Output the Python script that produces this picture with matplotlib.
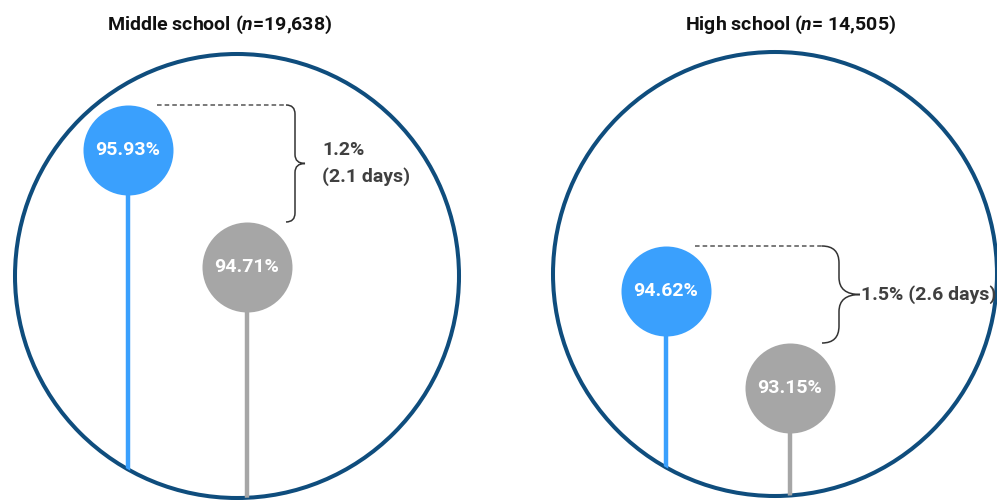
import numpy as np
import matplotlib
matplotlib.use('Agg')
import matplotlib.pyplot as plt
from matplotlib.patches import Circle, PathPatch
from matplotlib.path import Path

# data
panels = ['Middle school', 'High school']
n_students = ['19,638', ' 14,505']
blue_vals = [95.93, 94.62]
gray_vals = [94.71, 93.15]
gap_labels = ['1.2%\n(2.1 days)', '1.5% (2.6 days)']

plt.rcParams['font.family'] = ['Roboto', 'DejaVu Sans']
plt.rcParams['mathtext.fontset'] = 'custom'
plt.rcParams['mathtext.it'] = 'Roboto:italic:bold'

BLUE = '#3aa0fd'
GRAY = '#a6a6a6'
NAVY = '#0f4d7d'
TXT = '#404040'

W, H = 997, 500
fig = plt.figure(figsize=(W / 100, H / 100), dpi=100)

# overlay in pixel units (origin top-left)
ax0 = fig.add_axes([0, 0, 1, 1])
ax0.set_xlim(0, W)
ax0.set_ylim(H, 0)
ax0.axis('off')

# layout per panel
big_c = [(237, 276), (775, 274)]
big_r = 222
x_blue = [128, 666]
x_gray = [247, 790]
ylims = [(92.28, 97.494), (91.453, 99.03)]
title_x = [220, 791]
dash_x0 = [157, 695]
brace_x = [295, 839]
brace_r = [9, 17]
brace_tip = [10, 21]
text_x = [322, 861]
bub_r = 45  # px

for i in range(2):
    ax = fig.add_axes([0, 0, 1, 1])
    ax.set_xlim(0, W)
    ax.set_ylim(*ylims[i])
    ax.patch.set_alpha(0)
    ax.axis('off')

    circ = Circle(big_c[i], big_r, fill=False, ec=NAVY, lw=2.9, zorder=1)
    ax0.add_patch(circ)

    lo = ylims[i][0]
    for x, v, c in [(x_blue[i], blue_vals[i], BLUE), (x_gray[i], gray_vals[i], GRAY)]:
        st = ax.vlines(x, lo, v, color=c, lw=3.2, zorder=2)
        st.set_clip_path(circ)
        ax.scatter([x], [v], s=(bub_r * 2 * 0.72) ** 2, color=c, zorder=3, lw=0)
        ax.text(x, v, f'{v:.2f}%', color='white', fontsize=14, fontweight='bold',
                ha='center', va='center', zorder=4)

    # value -> pixel (top origin)
    def ypx(v):
        return H - ax.transData.transform((0, v))[1]

    top = ypx(blue_vals[i]) - bub_r
    bot = ypx(gray_vals[i]) - bub_r
    mid = (top + bot) / 2
    bx, r, tip = brace_x[i], brace_r[i], brace_tip[i]

    ax0.plot([dash_x0[i], bx - r], [top, top], ls=(0, (3, 2)), color='#555555', lw=1.1)
    verts = [(bx - r, top), (bx, top), (bx, top + r),
             (bx, mid - r),
             (bx, mid), (bx + tip, mid),
             (bx, mid), (bx, mid + r),
             (bx, bot - r),
             (bx, bot), (bx - r, bot)]
    codes = [Path.MOVETO, Path.CURVE3, Path.CURVE3,
             Path.LINETO,
             Path.CURVE3, Path.CURVE3,
             Path.CURVE3, Path.CURVE3,
             Path.LINETO,
             Path.CURVE3, Path.CURVE3]
    ax0.add_patch(PathPatch(Path(verts, codes), fill=False, ec='#333333', lw=1.1))

    ax0.text(text_x[i], mid, gap_labels[i], fontsize=14, fontweight='bold', color=TXT,
             ha='left', va='center', linespacing=1.5)
    ax0.text(title_x[i], 25, f'{panels[i]} ($\\mathit{{n}}$={n_students[i]})', fontsize=14,
             fontweight='bold', color='#111111', ha='center', va='center')

fig.savefig('out.png', dpi=100)
